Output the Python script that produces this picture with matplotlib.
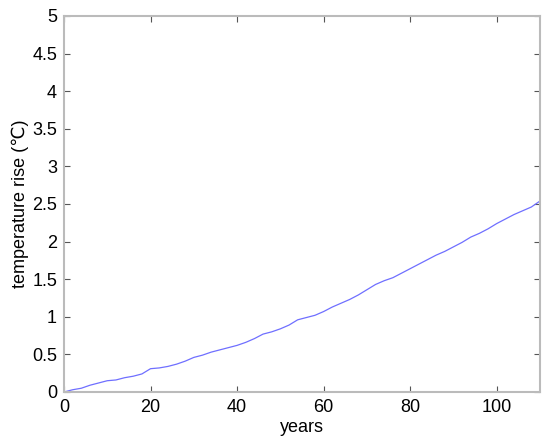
import numpy as np
import matplotlib
matplotlib.use('Agg')
import matplotlib.pyplot as plt

plt.rcParams['font.family'] = ['Liberation Sans', 'DejaVu Sans']

# data
years = [0, 2, 4, 6, 8, 10, 12, 14, 16, 18, 20, 22, 24, 26, 28, 30, 32, 34, 36, 38,
         40, 42, 44, 46, 48, 50, 52, 54, 56, 58, 60, 62, 64, 66, 68, 70, 72, 74, 76, 78,
         80, 82, 84, 86, 88, 90, 92, 94, 96, 98, 100, 102, 104, 106, 108, 110]
temp_rise = [0.0, 0.03, 0.05, 0.09, 0.12, 0.15, 0.16, 0.19, 0.21, 0.24, 0.31, 0.32, 0.34, 0.37,
             0.41, 0.46, 0.49, 0.53, 0.56, 0.59, 0.62, 0.66, 0.71, 0.77, 0.80, 0.84, 0.89, 0.96,
             0.99, 1.02, 1.07, 1.13, 1.18, 1.23, 1.29, 1.36, 1.43, 1.48, 1.52, 1.58, 1.64, 1.70,
             1.76, 1.82, 1.87, 1.93, 1.99, 2.06, 2.11, 2.17, 2.24, 2.30, 2.36, 2.41, 2.46, 2.54]
xticks = [0, 20, 40, 60, 80, 100]
yticks = [0, 0.5, 1, 1.5, 2, 2.5, 3, 3.5, 4, 4.5, 5]

fig = plt.figure(figsize=(5.5, 4.43), dpi=100)
ax = fig.add_axes([64/550, 51/443, 476/550, 376/443])
ax.plot(years, temp_rise, color='#6f6fff', lw=0.9)

ax.set_xlim(0, 110)
ax.set_ylim(0, 5)
ax.set_xticks(xticks)
ax.set_yticks(yticks)
ax.set_yticklabels(['0', '0.5', '1', '1.5', '2', '2.5', '3', '3.5', '4', '4.5', '5'])
ax.tick_params(direction='in', top=True, right=True, length=4, width=0.8,
               color='#555555', labelsize=13, pad=5)
for s in ax.spines.values():
    s.set_color('#bbbbbb')
    s.set_linewidth(1.5)

ax.set_xlabel('years', fontsize=13, labelpad=2)
ax.set_ylabel('temperature rise (\u2103)', fontsize=13, labelpad=2)

fig.savefig('out.png', dpi=100)
